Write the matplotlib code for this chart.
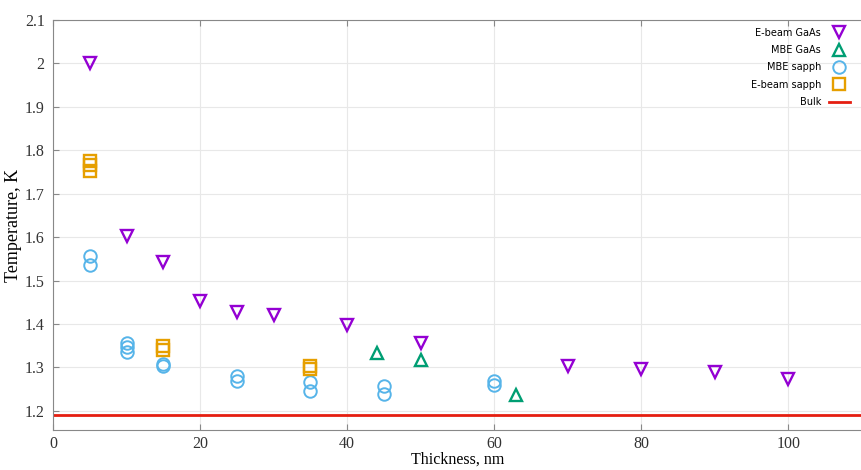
import matplotlib.pyplot as plt

# Critical temperature vs film thickness
ebeam_gaas_x = [5, 10, 15, 20, 25, 30, 40, 50, 70, 80, 90, 100]
ebeam_gaas_t = [2.00, 1.603, 1.543, 1.452, 1.428, 1.421, 1.398, 1.357, 1.303, 1.297, 1.290, 1.272]

mbe_gaas_x = [44, 50, 63]
mbe_gaas_t = [1.334, 1.318, 1.236]

mbe_sapph_x = [5, 5, 10, 10, 10, 15, 15, 25, 25, 35, 35, 45, 45, 60, 60]
mbe_sapph_t = [1.556, 1.535, 1.357, 1.347, 1.335, 1.308, 1.302, 1.281, 1.268,
               1.266, 1.246, 1.257, 1.238, 1.269, 1.260]

ebeam_sapph_x = [5, 5, 5, 15, 15, 35, 35]
ebeam_sapph_t = [1.776, 1.765, 1.753, 1.348, 1.340, 1.302, 1.296]

bulk_t = 1.19

x_ticks = [0, 20, 40, 60, 80, 100]
y_ticks = [1.2, 1.3, 1.4, 1.5, 1.6, 1.7, 1.8, 1.9, 2.0, 2.1]
y_tick_labels = ['1.2', '1.3', '1.4', '1.5', '1.6', '1.7', '1.8', '1.9', '2', '2.1']

fig = plt.figure(figsize=(8.62, 4.70), dpi=100)
ax = fig.add_axes([0.0615, 0.0845, 0.9385, 0.8729])

ms = 9
mew = 1.7
ax.plot(ebeam_gaas_x, ebeam_gaas_t, linestyle='none', marker='v', ms=ms, mew=mew,
        mfc='none', mec='#9400D3', label='E-beam GaAs', zorder=3)
ax.plot(mbe_gaas_x, mbe_gaas_t, linestyle='none', marker='^', ms=ms, mew=mew,
        mfc='none', mec='#009E73', label='MBE GaAs', zorder=3)
ax.plot(mbe_sapph_x, mbe_sapph_t, linestyle='none', marker='o', ms=ms, mew=1.4,
        mfc='none', mec='#56B4E9', label='MBE sapph', zorder=3)
ax.plot(ebeam_sapph_x, ebeam_sapph_t, linestyle='none', marker='s', ms=ms, mew=mew,
        mfc='none', mec='#E69F00', label='E-beam sapph', zorder=3)
ax.plot([0, 110], [bulk_t, bulk_t], color='#E51E10', lw=2, label='Bulk', zorder=2)

ax.set_xlim(0, 110)
ax.set_ylim(1.155, 2.1)
ax.set_xticks(x_ticks)
ax.set_yticks(y_ticks)
ax.set_yticklabels(y_tick_labels)
ax.grid(True, color='#e8e8e8', lw=0.8)
ax.set_axisbelow(True)

for lab in ax.get_xticklabels() + ax.get_yticklabels():
    lab.set_family('Liberation Serif')
    lab.set_fontsize(11.5)
    lab.set_color('#333333')
ax.tick_params(direction='in', length=4, color='#888888', top=True, pad=6)
ax.tick_params(axis='x', pad=4)

for side in ['left', 'bottom', 'top']:
    ax.spines[side].set_color('#888888')
ax.spines['right'].set_visible(False)

ax.set_xlabel('Thickness, nm', family='Liberation Serif', fontsize=11.5, labelpad=0)
ax.set_ylabel('Temperature, K', family='Liberation Serif', fontsize=13, labelpad=2)

leg = ax.legend(loc='upper right', markerfirst=False, frameon=False, fontsize=7,
                handlelength=2.2, labelspacing=0.75, borderaxespad=0.4,
                bbox_to_anchor=(0.995, 1.0))
for h in leg.legend_handles:
    if h.get_marker() not in (None, 'None', ''):
        h.set_markersize(9)

fig.savefig('out.png', dpi=100)
